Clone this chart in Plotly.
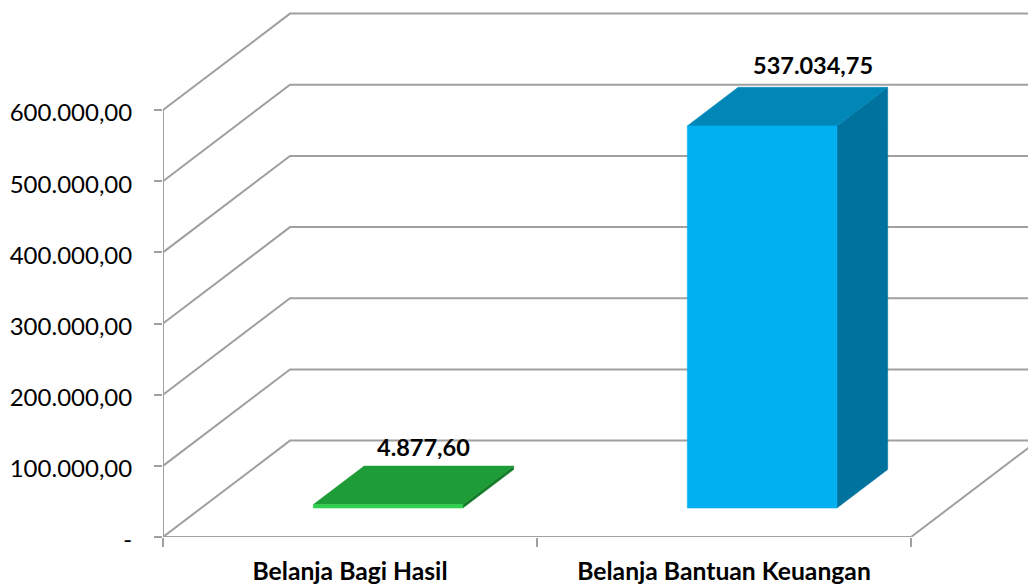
import plotly.graph_objects as go

categories = ["Belanja Bagi Hasil", "Belanja Bantuan Keuangan"]
values = [4877.60, 537034.75]
value_labels = ["4.877,60", "537.034,75"]
tick_values = [0, 100000, 200000, 300000, 400000, 500000, 600000]
tick_labels = ["-", "100.000,00", "200.000,00", "300.000,00", "400.000,00", "500.000,00", "600.000,00"]

front_colors = ["#2FD14F", "#00B0F0"]
top_colors = ["#1E9C37", "#0087B8"]
side_colors = ["#157A2A", "#00729E"]
label_xshift = [-15, 0]
label_yshift = [3, 6]

GREY = "#A0A0A0"
FONT = "Lato"
PX_X = 374.0                      # px per category
PX_Y = 427.0 / 600000.0           # px per value unit
DX = 127.0 / PX_X                 # oblique depth, category units
DY = 96.4 / PX_Y                  # oblique depth, value units
BAR_W = 0.4
D0, D1 = 0.3, 0.7                 # bar depth span


def proj(x, v, d):
    return x + DX * d, v + DY * d


fig = go.Figure()


def line(xs, ys, width=2, color=GREY):
    fig.add_trace(go.Scatter(x=xs, y=ys, mode="lines", line=dict(color=color, width=width),
                             hoverinfo="skip", showlegend=False))


def poly(pts, color):
    fig.add_trace(go.Scatter(x=[p[0] for p in pts] + [pts[0][0]], y=[p[1] for p in pts] + [pts[0][1]],
                             mode="lines", fill="toself", fillcolor=color,
                             line=dict(color=color, width=0.5),
                             hoverinfo="skip", showlegend=False))


n = len(categories)
# walls: side wall diagonals and back wall lines
for t in tick_values:
    a = proj(0, t, 0)
    b = proj(0, t, 1)
    c = proj(n, t, 1)
    line([a[0], b[0], c[0]], [a[1], b[1], c[1]])
# floor: front edge and right diagonal
b = proj(n, 0, 1)
line([0, n, b[0]], [0, 0, b[1]])
# vertical axis
line([0, 0], [0, tick_values[-1]])

# bars
for i, v in enumerate(values):
    x0 = i + 0.5 - BAR_W / 2
    x1 = i + 0.5 + BAR_W / 2
    poly([proj(x1, 0, D0), proj(x1, 0, D1), proj(x1, v, D1), proj(x1, v, D0)], side_colors[i])
    poly([proj(x0, v, D0), proj(x1, v, D0), proj(x1, v, D1), proj(x0, v, D1)], top_colors[i])
    poly([proj(x0, 0, D0), proj(x1, 0, D0), proj(x1, v, D0), proj(x0, v, D0)], front_colors[i])
    lx, ly = proj(i + 0.5, v, D1)
    fig.add_annotation(x=lx, y=ly, text="<b>" + value_labels[i] + "</b>", showarrow=False,
                       xanchor="center", yanchor="bottom",
                       xshift=label_xshift[i], yshift=label_yshift[i],
                       font=dict(family=FONT, size=23.5, color="#000000"))

fig.update_layout(
    width=1028, height=585, autosize=False,
    margin=dict(l=163, r=0, t=0, b=48),
    paper_bgcolor="white", plot_bgcolor="white",
    showlegend=False,
    xaxis=dict(
        range=[0, 865.0 / PX_X], showgrid=False, zeroline=False, showline=False,
        tickmode="array", tickvals=[i + 0.5 for i in range(n)],
        ticktext=["<b>" + c + "</b>" for c in categories],
        ticks="", tickfont=dict(family=FONT, size=24.7, color="#000000"),
        ticklabelstandoff=17,
        minor=dict(tickmode="array", tickvals=list(range(n + 1)), ticks="outside",
                   ticklen=9, tickwidth=2, tickcolor=GREY, showgrid=False),
        fixedrange=True,
    ),
    yaxis=dict(
        range=[0, 537.0 / PX_Y], showgrid=False, zeroline=False, showline=False,
        tickmode="array", tickvals=tick_values, ticktext=tick_labels,
        ticks="outside", ticklen=8, tickwidth=2, tickcolor=GREY,
        tickfont=dict(family=FONT, size=24, color="#000000"),
        ticklabelstandoff=17, ticklabelshift=3,
        fixedrange=True,
    ),
)

fig.write_html("out.html", config=dict(displayModeBar=False),
               post_script="document.body.style.margin='0';document.body.style.overflow='hidden';")
